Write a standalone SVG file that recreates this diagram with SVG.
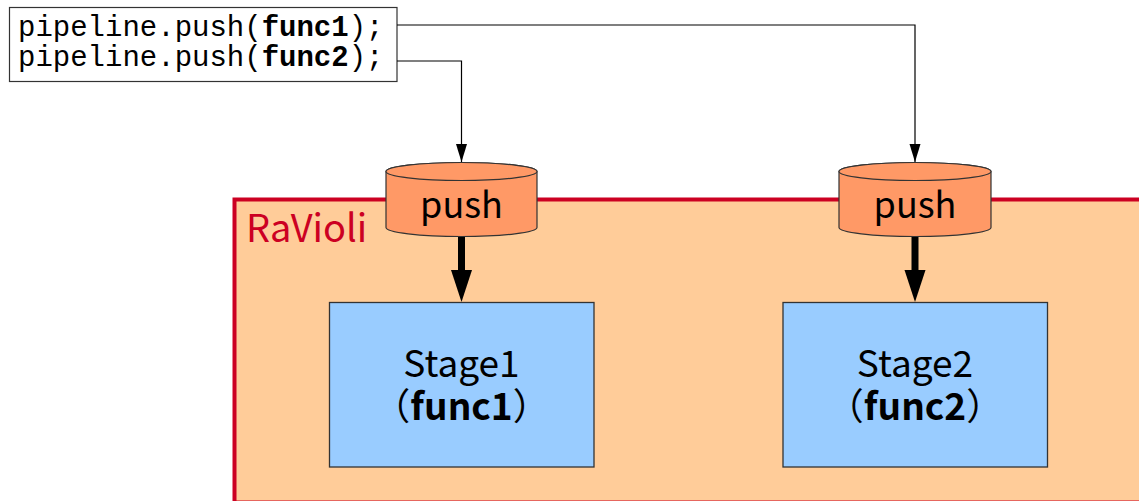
<svg xmlns="http://www.w3.org/2000/svg" width="1139" height="501" viewBox="0 0 1139 501">
  <style>
    .code { font-family: "Liberation Mono", "DejaVu Sans Mono", monospace; font-size: 29px; fill: #000; }
    .code .b { font-weight: bold; }
    .label { font-family: "Noto Sans CJK JP", "Noto Sans", sans-serif; font-size: 36px; fill: #000; text-anchor: middle; }
    .stage-text { font-size: 37px; }
    .label .b { font-weight: bold; }
    .cyl { fill: #ff9966; stroke: #333; stroke-width: 1.2; }
    .stage { fill: #99ccff; stroke: #333; stroke-width: 1.3; }
    .thin { fill: none; stroke: #000; stroke-width: 1.2; }
    .thick { fill: none; stroke: #000; stroke-width: 7; }
  </style>
  <defs>
    <marker id="arrowSmall" markerUnits="userSpaceOnUse" viewBox="0 -6 18 12" refX="18" refY="0" markerWidth="18" markerHeight="12" orient="auto">
      <path d="M0,-5.5 L18,0 L0,5.5 z" fill="#000"/>
    </marker>
    <marker id="arrowBig" markerUnits="userSpaceOnUse" viewBox="0 -11 32 22" refX="0" refY="0" markerWidth="32" markerHeight="22" orient="auto">
      <path d="M0,-10.5 L32,0 L0,10.5 z" fill="#000"/>
    </marker>
  </defs>

  <rect width="1139" height="501" fill="#fff"/>

  <!-- RaVioli container -->
  <g id="ravioli">
    <rect x="234.5" y="199.5" width="920" height="303" fill="#ffcc99" stroke="#cc0022" stroke-width="4"/>
    <text x="246" y="242" font-family="Noto Sans CJK JP, Noto Sans, sans-serif" font-size="38" fill="#cc0022">RaVioli</text>
  </g>

  <!-- source code snippet -->
  <g id="code">
    <rect x="9.5" y="7.5" width="387.5" height="74" fill="#fff" stroke="#333" stroke-width="1.2"/>
    <text class="code" x="18" y="36">pipeline.push(<tspan class="b">func1</tspan>);</text>
    <text class="code" x="18" y="65.5">pipeline.push(<tspan class="b">func2</tspan>);</text>
  </g>

  <!-- connectors -->
  <g id="connectors">
    <path class="thin" d="M397,25 H915 V162" marker-end="url(#arrowSmall)"/>
    <path class="thin" d="M397,61 H461.5 V162" marker-end="url(#arrowSmall)"/>
    <path class="thick" d="M461.5,237 V270" marker-end="url(#arrowBig)"/>
    <path class="thick" d="M915,237 V270" marker-end="url(#arrowBig)"/>
  </g>

  <!-- push queues -->
  <g id="push1">
    <path class="cyl" d="M386,171.5 V227.5 A75.5,9 0 0 0 537,227.5 V171.5 A75.5,9 0 0 0 386,171.5 Z"/>
    <ellipse class="cyl" cx="461.5" cy="171.5" rx="75.5" ry="9"/>
    <text class="label" x="461.5" y="218">push</text>
  </g>
  <g id="push2">
    <path class="cyl" d="M839,171.5 V227.5 A76,9 0 0 0 991,227.5 V171.5 A76,9 0 0 0 839,171.5 Z"/>
    <ellipse class="cyl" cx="915" cy="171.5" rx="76" ry="9"/>
    <text class="label" x="915" y="218">push</text>
  </g>

  <!-- pipeline stages -->
  <g id="stage1">
    <rect class="stage" x="329.5" y="302.5" width="264.5" height="164.5"/>
    <text class="label stage-text" x="461.5" y="377">Stage1</text>
    <text class="label stage-text" x="461.5" y="420">（<tspan class="b">func1</tspan>）</text>
  </g>
  <g id="stage2">
    <rect class="stage" x="783" y="302.5" width="264.5" height="164.5"/>
    <text class="label stage-text" x="915" y="377">Stage2</text>
    <text class="label stage-text" x="915" y="420">（<tspan class="b">func2</tspan>）</text>
  </g>
</svg>
